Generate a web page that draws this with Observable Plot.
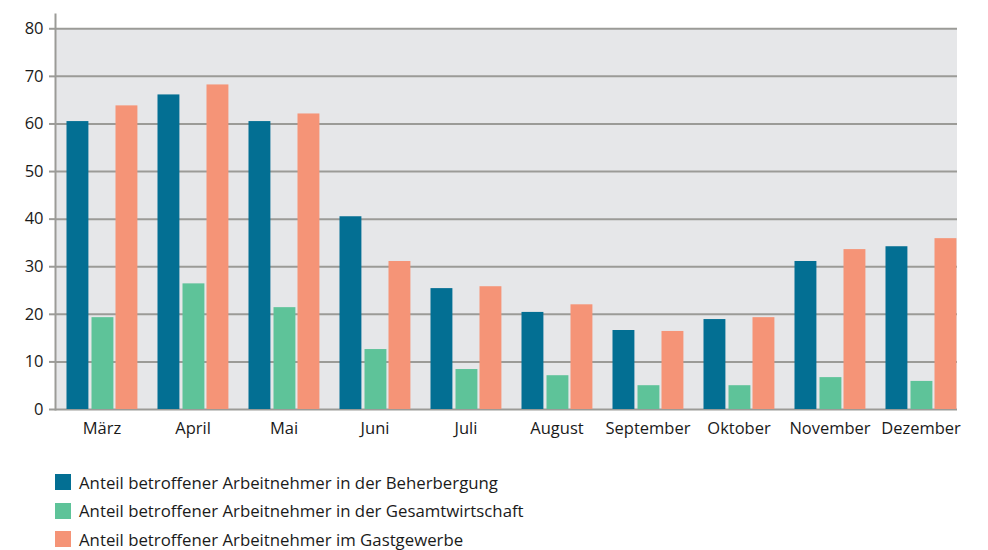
<!DOCTYPE html>
<html><head><meta charset="utf-8">
<script src="https://cdn.jsdelivr.net/npm/d3@7"></script>
<script src="https://cdn.jsdelivr.net/npm/@observablehq/plot@0.6"></script>
<style>
body{margin:0;background:#fff;font-family:"Open Sans",sans-serif;}
#legend{margin-left:55px;margin-top:23px;}
.row{display:flex;align-items:center;height:28.5px;font-size:16.8px;color:#1a1a1a;}
.sw{width:16px;height:16px;margin-right:8px;}
</style></head>
<body><div id="chart"></div><div id="legend"></div>
<script>
const months = ["März","April","Mai","Juni","Juli","August","September","Oktober","November","Dezember"];
const seriesNames = [
  "Anteil betroffener Arbeitnehmer in der Beherbergung",
  "Anteil betroffener Arbeitnehmer in der Gesamtwirtschaft",
  "Anteil betroffener Arbeitnehmer im Gastgewerbe"
];
const beherbergung = [60.5,66.1,60.5,40.5,25.4,20.4,16.6,18.9,31.1,34.2];
const gesamtwirtschaft = [19.3,26.4,21.4,12.6,8.4,7.1,5.0,5.0,6.7,5.9];
const gastgewerbe = [63.8,68.2,62.1,31.1,25.8,22.0,16.4,19.3,33.6,35.9];
const yTicks = [0,10,20,30,40,50,60,70,80];
const colors = ["#036f93","#5ec399","#f59477"];

const seriesValues = [beherbergung, gesamtwirtschaft, gastgewerbe];
const data = seriesValues.map((vals,s)=>months.map((m,i)=>({month:m, series:seriesNames[s], value:vals[i]})));
const insets = [[10.5,58.6],[35.5,33.6],[59.5,9.6]];

const chart = Plot.plot({
  width: 988, height: 445,
  marginLeft: 55, marginRight: 31, marginTop: 14, marginBottom: 36,
  style:{fontFamily:'"Open Sans",sans-serif', fontSize:"16.5px", color:"#1a1a1a", background:"transparent"},
  x:{domain:months, range:[55.5,966.5], padding:0, tickSize:0, tickPadding:13, label:null},
  y:{domain:[0,83], ticks:yTicks, tickSize:6, tickPadding:6, label:null, line:true},
  color:{domain:seriesNames, range:colors},
  marks:[
    Plot.rectY([{lo:0,hi:80}], {y1:"lo", y2:"hi", fill:"#e6e7e9"}),
    Plot.ruleY(yTicks, {stroke:"#9b9b97", strokeWidth:2}),
    ...data.map((d,s)=>Plot.barY(d, {x:"month", y:"value", fill:"series", insetLeft:insets[s][0], insetRight:insets[s][1]}))
  ]
});
document.getElementById("chart").appendChild(chart);
const svg = d3.select(chart);
// put background behind the axes so the axis line and ticks stay visible
svg.selectAll("g[aria-label='rect']").lower();
svg.selectAll("[stroke='currentColor']").attr("stroke","#9b9b97").attr("stroke-width",2);

const lg = d3.select("#legend");
seriesNames.forEach((n,i)=>{
  const r = lg.append("div").attr("class","row");
  r.append("div").attr("class","sw").style("background",colors[i]);
  r.append("span").text(n);
});
</script></body></html>
